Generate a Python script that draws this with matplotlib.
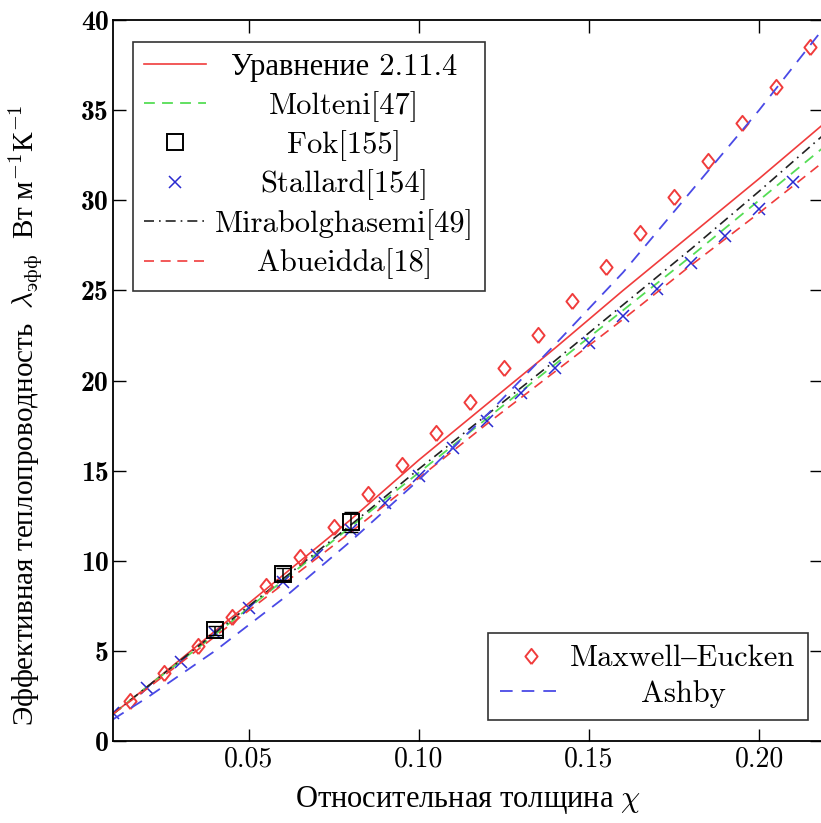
import matplotlib
matplotlib.use("Agg")
import matplotlib.pyplot as plt
import numpy as np

plt.rcParams['font.family'] = ['cmr10', 'Liberation Serif']
plt.rcParams['mathtext.fontset'] = 'cm'
plt.rcParams['axes.formatter.use_mathtext'] = True

# relative thickness grid for the model curves
x_line = [0.01, 0.02, 0.04, 0.06, 0.08, 0.10, 0.12, 0.14, 0.16, 0.18, 0.20, 0.22]
eq_2114 = [1.5, 3.0, 6.1, 9.2, 12.3, 15.6, 18.7, 21.8, 25.0, 28.1, 31.2, 34.4]
molteni = [1.5, 3.0, 5.9, 8.9, 11.9, 14.9, 17.9, 20.9, 23.9, 26.9, 30.0, 33.1]
mirabolghasemi = [1.5, 3.0, 6.0, 9.0, 12.0, 15.1, 18.1, 21.1, 24.2, 27.3, 30.5, 33.8]
abueidda = [1.5, 2.9, 5.8, 8.7, 11.6, 14.6, 17.6, 20.5, 23.4, 26.4, 29.3, 32.3]
ashby = [1.2, 2.4, 5.0, 7.9, 11.1, 14.5, 18.1, 22.0, 26.0, 30.5, 35.0, 39.8]

# Fok measurements
fok_x = [0.04, 0.06, 0.08]
fok_y = [6.15, 9.26, 12.15]
fok_err = [0.25, 0.35, 0.55]

# Stallard simulations
stallard_x = [0.01, 0.02, 0.03, 0.04, 0.05, 0.06, 0.07, 0.08, 0.09, 0.10, 0.11,
              0.12, 0.13, 0.14, 0.15, 0.16, 0.17, 0.18, 0.19, 0.20, 0.21]
stallard_y = [1.55, 2.94, 4.38, 5.99, 7.38, 8.82, 10.3, 11.7, 13.2, 14.7, 16.25,
              17.75, 19.3, 20.7, 22.1, 23.6, 25.1, 26.5, 28.0, 29.5, 31.0]

# Maxwell-Eucken
me_x = [0.015, 0.025, 0.035, 0.045, 0.055, 0.065, 0.075, 0.085, 0.095, 0.105, 0.115,
        0.125, 0.135, 0.145, 0.155, 0.165, 0.175, 0.185, 0.195, 0.205, 0.215]
me_y = [2.2, 3.77, 5.3, 6.9, 8.6, 10.2, 11.9, 13.7, 15.3, 17.1, 18.8,
        20.7, 22.5, 24.4, 26.3, 28.2, 30.2, 32.2, 34.3, 36.3, 38.5]

fig = plt.figure(figsize=(8.21, 8.23), dpi=100)
ax = fig.add_axes([0.1376, 0.0996, 0.8636, 0.876])

red = '#f03c3c'
blue = '#4a4ae6'
green = '#55dd55'
diamond = [(0, -1.25), (1, 0), (0, 1.25), (-1, 0), (0, -1.25)]

h_eq, = ax.plot(x_line, eq_2114, color=red, lw=1.2, label='Уравнение 2.11.4')
h_mol, = ax.plot(x_line, molteni, color=green, lw=1.3, dashes=(6, 4), label='Molteni[47]')
ax.errorbar(fok_x, fok_y, yerr=fok_err, fmt='none', ecolor='black', elinewidth=1.1,
            capsize=5, zorder=4)
h_fok, = ax.plot(fok_x, fok_y, ls='none', marker='s', ms=11, mfc='none', mec='black',
                 mew=1.4, label='Fok[155]', zorder=5)
h_st, = ax.plot(stallard_x, stallard_y, ls='none', marker='x', ms=9, color='#2a2ad0',
                mew=1.1, label='Stallard[154]')
h_mir, = ax.plot(x_line, mirabolghasemi, color='#222222', lw=1.2, dashes=(6, 3, 1, 3),
                 label='Mirabolghasemi[49]')
h_ab, = ax.plot(x_line, abueidda, color=red, lw=1.2, dashes=(6, 4), label='Abueidda[18]')
h_me, = ax.plot(me_x, me_y, ls='none', marker=diamond, ms=11, mfc='none', mec=red,
                mew=1.4, label='Maxwell–Eucken')
h_ash, = ax.plot(x_line, ashby, color=blue, lw=1.3, dashes=(7, 5), label='Ashby')

ax.set_xlim(0.01, 0.2185)
ax.set_ylim(0, 40)
ax.set_xticks([0.05, 0.10, 0.15, 0.20])
ax.set_xticklabels(['0.05', '0.10', '0.15', '0.20'])
ax.set_yticks(range(0, 41, 5))
ax.set_yticklabels([str(v) for v in range(0, 41, 5)], family='cmb10')
ax.tick_params(direction='in', length=9, width=1.0, top=True, right=True,
               labelsize=20, pad=4)
ax.tick_params(axis='y', pad=3)
for s in ax.spines.values():
    s.set_linewidth(1.3)

ax.set_xlabel('Относительная толщина $\\chi$', fontsize=22, family='Liberation Serif',
              labelpad=8)
ax.set_ylabel('Эффективная теплопроводность  $\\lambda_{\\mathrm{эфф}}$  Вт м$^{-1}$К$^{-1}$',
              fontsize=21, family='Liberation Serif')
ax.yaxis.set_label_coords(-0.097, 0.452)

leg1 = ax.legend(handles=[h_eq, h_mol, h_fok, h_st, h_mir, h_ab], loc='upper left',
                 bbox_to_anchor=(0.028, 0.9695), borderaxespad=0, fontsize=22,
                 fancybox=False, edgecolor='#333333', framealpha=1, labelspacing=0.28,
                 handlelength=2.0, handletextpad=0.3, borderpad=0.38)
leg1.get_frame().set_linewidth(1.2)
ax.add_artist(leg1)
leg2 = ax.legend(handles=[h_me, h_ash], loc='lower right', bbox_to_anchor=(0.98, 0.029),
                 borderaxespad=0, fontsize=22, fancybox=False, edgecolor='#333333',
                 framealpha=1, labelspacing=0.25, handlelength=2.0, handletextpad=0.3,
                 borderpad=0.4)
leg2.get_frame().set_linewidth(1.2)

# centre the legend labels within their column
fig.canvas.draw()
for leg in (leg1, leg2):
    texts = leg.get_texts()
    widths = [t.get_window_extent().width for t in texts]
    wmax = max(widths)
    for t, w in zip(texts, widths):
        t.set_x((wmax - w) / 2)

fig.savefig('out.png', dpi=100)
